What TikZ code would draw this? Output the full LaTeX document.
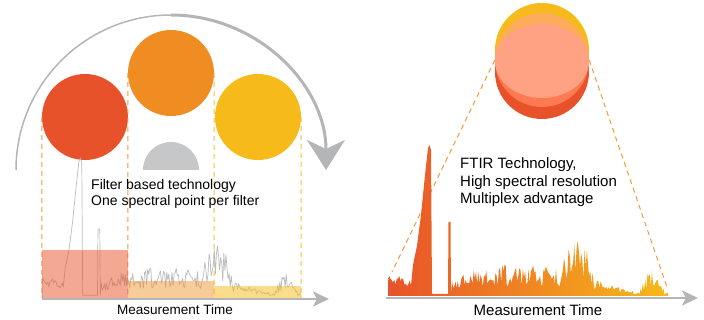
\documentclass[tikz,border=0pt]{standalone}
\usepackage{fontspec}
\setmainfont{Liberation Sans}
\usetikzlibrary{arrows.meta}
\definecolor{filterred}{HTML}{E8522A}
\definecolor{filterorange}{HTML}{EF8C22}
\definecolor{filteryellow}{HTML}{F6BA1A}
\definecolor{wheelgray}{HTML}{B4B5B7}
\definecolor{shuttergray}{HTML}{C6C7C8}
\definecolor{guideorange}{HTML}{F29A3A}
\definecolor{guideyellow}{HTML}{F6BE3A}
\definecolor{mixorange}{HTML}{FCAC5A}
\definecolor{mixred}{HTML}{FF7A50}
\definecolor{mixsalmon}{HTML}{FFA284}
\definecolor{tracegray}{HTML}{BBBBBB}
\tikzstyle{filterdisc} = [
    circle,
    minimum size=86pt,
    inner sep=0pt,
    draw=none
]
\tikzstyle{ftirdisc} = [
    circle,
    minimum size=94pt,
    inner sep=0pt,
    draw=none
]
\tikzstyle{guide} = [dash pattern=on 5pt off 4pt, line width=1pt]
\tikzstyle{timeaxis} = [
    wheelgray,
    line width=2.5pt,
    -{Stealth[length=16pt,width=15pt,inset=4pt]}
]
\tikzstyle{caption} = [align=left, inner sep=0pt, anchor=west]
\tikzstyle{axislabel} = [inner sep=0pt]
\newcommand{\ftirspectrum}{(388,296) -- (388,284)
    -- plot[domain=389:411,samples=18] (\x,{287-12*rnd})
    -- (413,265) -- (417,246) -- (421,215) -- (425,175) -- (428,148)
    -- (429.5,145) -- (431,150) -- (432,294) -- (448,294)
    -- (448.5,222) -- (450.5,222) -- (451,294)
    -- plot[domain=452:668,samples=190] (\x,{296-ftirenv(\x)*(0.3+0.7*rnd)})
    -- (668,296)}

\begin{document}
\begin{tikzpicture}[x=1pt, y=-1pt,
    declare function={bump(\t,\c,\w)=max(0,1-((\t-\c)/\w)^2);
        ftirenv(\t)=5+27*bump(\t,520,110)+38*bump(\t,578,17)+20*bump(\t,652,12);}]
\useasboundingbox (0,0) rectangle (704,320);

\draw [wheelgray, line width=1.5pt] (16,170) arc [start angle=180, end angle=270, radius=155];
\draw [wheelgray, line width=3pt, -{Stealth[length=30pt,width=38pt,inset=9pt]}]
    (171,15) arc [start angle=270, end angle=360, radius=155];

\node (filter1) [filterdisc, fill=filterred] at (85,117) {};
\node (filter2) [filterdisc, fill=filterorange] at (171,73) {};
\node (filter3) [filterdisc, fill=filteryellow] at (258,117) {};

\coordinate (foot1) at (42,298);
\coordinate (foot2) at (128,298);
\coordinate (foot3) at (214,298);
\coordinate (foot4) at (301,298);

\draw [guide, guideorange] (filter1.west) -- (foot1);
\draw [guide, guideorange] (filter2.west) -- (foot2);
\draw [guide, guideyellow] (filter2.east) -- (foot3);
\draw [guide, guideyellow] (filter3.east) -- (foot4);

\begin{scope}[xshift=-316.9pt, yshift=-24.7pt, xscale=0.925, yscale=0.92]
\pgfmathsetseed{11}
\draw [tracegray, line width=0.7pt, line join=round] \ftirspectrum;
\end{scope}

\fill [filterred, opacity=0.5] (42,250) rectangle (128,298);
\fill [filterorange, opacity=0.45] (128,281) rectangle (214,298);
\fill [filteryellow, opacity=0.5] (214,286) rectangle (301,298);

\fill [shuttergray] (143,170) arc [start angle=180, end angle=360, radius=28] -- cycle;

\node (filtertext) [caption, font=\fontsize{14pt}{16.5pt}\selectfont] at (91,194)
{Filter based technology\\One spectral point per filter};

\coordinate (axis1) at (42,299);
\coordinate (axis1end) at (329,299);
\draw [timeaxis] (axis1) -- (axis1end);
\node (time1) [axislabel, font=\fontsize{13.5pt}{16pt}\selectfont] at (175,310) {Measurement Time};

\node (ftir1) [ftirdisc, fill=filteryellow] at (542,50) {};
\node (ftir2) [ftirdisc, fill=mixorange] at (542,60) {};
\node (ftir3) [ftirdisc, fill=filterred] at (542,72) {};
\begin{scope}
\clip (542,72) circle [radius=47];
\fill [mixred] (542,60) circle [radius=47];
\end{scope}
\fill [mixsalmon] (542,61) ellipse [x radius=47, y radius=37];

\coordinate (ftirfoot1) at (392,272);
\coordinate (ftirfoot2) at (668,290);
\draw [guide, guideorange] (ftir2.west) -- (ftirfoot1);
\draw [guide, guideorange] (ftir2.east) -- (ftirfoot2);

\pgfmathsetseed{11}
\shade [left color=filterred, right color=filteryellow] \ftirspectrum -- cycle;

\node (ftirtext) [caption, font=\fontsize{15pt}{17.5pt}\selectfont] at (460,182.5)
{FTIR Technology,\\High spectral resolution\\Multiplex advantage};

\coordinate (axis2) at (386,298);
\coordinate (axis2end) at (698,298);
\draw [timeaxis] (axis2) -- (axis2end);
\node (time2) [axislabel, font=\fontsize{15pt}{17pt}\selectfont] at (538,310) {Measurement Time};

\end{tikzpicture}
\end{document}
